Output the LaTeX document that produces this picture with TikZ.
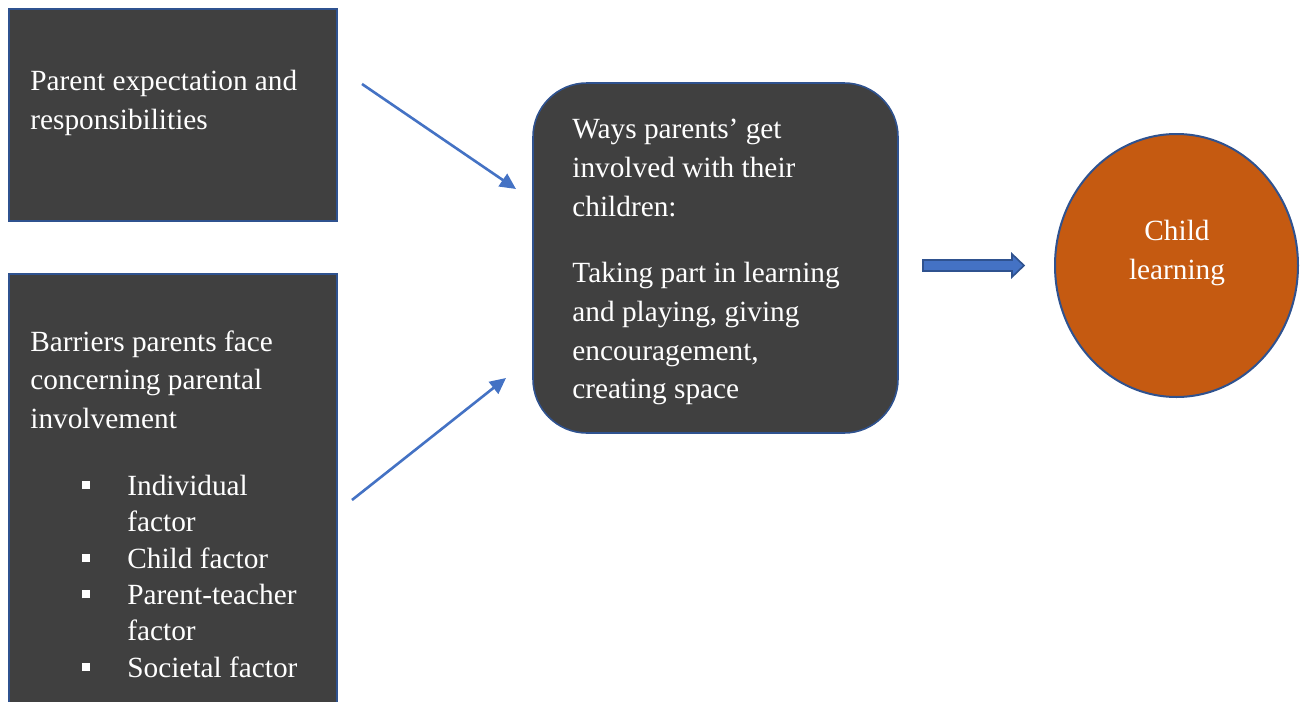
\documentclass[tikz,border=0pt]{standalone}
\usepackage{fontspec}
\setmainfont{Liberation Serif}
\usetikzlibrary{arrows.meta,shapes.geometric,calc}
\definecolor{panelgrey}{HTML}{404040}
\definecolor{edgeblue}{HTML}{2F528F}
\definecolor{linkblue}{HTML}{4472C4}
\definecolor{rust}{HTML}{C55A11}
\newcommand{\sqbullet}{\makebox[22.5pt][l]{\rule[3pt]{4pt}{4pt}}}

\begin{document}
\begin{tikzpicture}[x=0.5pt,y=-0.5pt,>=Latex,
  panel/.style={draw=edgeblue,fill=panelgrey,line width=0.8pt,inner sep=0},
  words/.style={anchor=north west,inner sep=0,align=left,text=white,
    font=\fontsize{14.65}{19.4}\selectfont,execute at begin node=\strut},
  link/.style={draw=linkblue,line width=1.3pt,-{Triangle[length=8pt,width=7.5pt]}}]
\useasboundingbox (0,0) rectangle (1303,702);
\fill[white] (0,0) rectangle (1303,702);

% left panels
\node[panel,minimum width=164pt,minimum height=106pt] (expect) at (173,115) {};
\node[panel,minimum width=164pt,minimum height=219pt] (barrier) at (173,493) {};
\node[words] (expecttxt) at (30,70) {Parent expectation and\\responsibilities};
\node[words] (barriertxt) at (30,330) {Barriers parents face\\concerning parental\\involvement};
\node[words,font=\fontsize{14.65}{18.2}\selectfont] (factors) at (82,474.5)
  {\sqbullet Individual\\\hspace*{22.5pt}factor\\
   \sqbullet Child factor\\
   \sqbullet Parent-teacher\\\hspace*{22.5pt}factor\\
   \sqbullet Societal factor};

% middle box and circle
\node[panel,rounded corners=27pt,minimum width=182.5pt,minimum height=175pt] (ways) at (715.5,258) {};
\node[words] (waystxt) at (572,119) {Ways parents’ get\\involved with their\\children:\\[13.6pt]
  Taking part in learning\\and playing, giving\\encouragement,\\creating space};
\node[ellipse,draw=edgeblue,fill=rust,line width=1pt,minimum width=121.5pt,minimum height=131.5pt] (child) at (1176.5,265.5) {};
\node[words,anchor=north,align=center] (childtxt) at (1177,219.5) {Child\\learning};

% connectors
\coordinate (fromexpect) at (362,84);
\coordinate (toways1) at (516,189);
\coordinate (frombarrier) at (352,500);
\coordinate (toways2) at (506,378);
\draw[link] (fromexpect) -- (toways1);
\draw[link] (frombarrier) -- (toways2);

\coordinate (tail) at (923,265.5);
\coordinate (tip) at (1024,265.5);
\draw[edgeblue,fill=linkblue,line width=0.8pt,line join=miter]
  ($(tail)+(0,-5.5)$) -- ($(tip)+(-12,-5.5)$) -- ($(tip)+(-12,-11.5)$) -- (tip)
  -- ($(tip)+(-12,11.5)$) -- ($(tip)+(-12,5.5)$) -- ($(tail)+(0,5.5)$) -- cycle;
\end{tikzpicture}
\end{document}
